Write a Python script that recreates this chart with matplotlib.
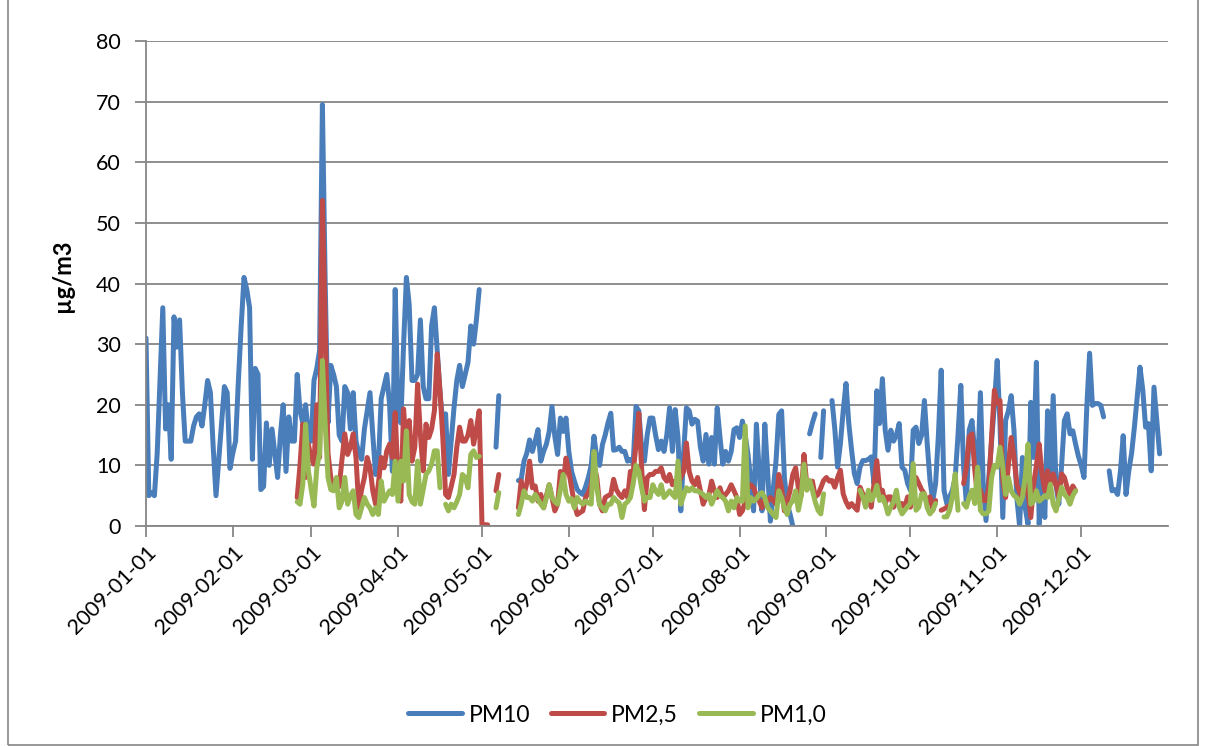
import numpy as np
import pandas as pd
import matplotlib
matplotlib.use("Agg")
import matplotlib.pyplot as plt
import matplotlib.dates as mdates
from matplotlib.lines import Line2D
from matplotlib.patches import Rectangle

N = np.nan

dates = pd.date_range("2009-01-01", "2009-12-31", freq="D")
month_ticks = pd.date_range("2009-01-01", "2009-12-01", freq="MS")

# daily means, one row per month
pm10 = [
    31, 5, 5.5, 5, 12, 24, 36, 16, 20, 11, 34.5, 29.5, 34, 22, 14, 14, 14, 16.5, 18, 18.5,
    16.5, 20, 24, 22, 13, 5, 11, 17, 23, 22, 9.5,
    12, 14, 24, 33, 41, 39, 36, 11, 26, 25, 6, 6.5, 17, 10, 16, 12, 8, 15, 20, 9,
    18, 14, 14, 25, 19, 17, 20, 15,
    14, 24, 26, 29, 69.5, 40, 17, 26.5, 25, 23, 15, 14, 23, 22, 16, 22, 14, 12, 11, 16,
    19, 22, 15, 8.5, 10, 21, 23, 25, 20, 9, 39,
    19, 17, 30, 41, 36.5, 24, 24, 25, 34, 23, 21, 21, 33, 36, 29, 22, 17, 18.5, 8.5, 14,
    19.5, 24, 26.5, 23, 25, 27, 33, 30, 34, 39,
    N, N, N, N, N, 13, 21.5, N, N, N, N, N, N, 7.5, 7.7, 10.7, 12, 14.2, 12.3, 14,
    15.9, 10.7, 12.3, 13.5, 15.6, 19.7, 14.8, 11.8, 17.8, 15.6, 17.8,
    12.3, 9, 7.4, 6, 5.5, 5.2, 6.5, 8, 10, 14.8, 11.2, 10, 13.4, 15, 17, 18.6, 12.5, 12.6, 13, 12.3,
    12.3, 10.7, 11, 10.4, 19.7, 19, 12.9, 10.7, 15, 17.8,
    17.8, 15, 12.6, 14, 12.3, 15, 19.5, 12.3, 19.2, 14.6, 2.5, 12, 19.5, 19, 16.8, 17.6, 17.3, 13, 10.7, 15.1,
    10.2, 14.6, 10.2, 19.5, 14.6, 10.2, 12.3, 10.7, 12.3, 15.9, 16.2,
    14.6, 17.3, 15, 11.8, 7.4, 2.5, 16.8, 9, 2.5, 16.8, 9, 0.8, 6, 10.7, 18.4, 19, 8, 3.6, 2, 0,
    N, N, N, N, N, 15.2, 17, 18.5, N, 11.3, 19,
    N, N, 20.7, 16, 9.7, 13.6, 19, 23.5, 16.9, 12.5, 8.6, 7, 9.7, 10.8, 10.8, 11, 11.4, 7, 22.3, 16.9,
    24.3, 15.8, 12.5, 15.8, 14, 15, 16.9, 9.7, 9.2, 7,
    5.9, 15.8, 16.3, 13.6, 15, 20.7, 13.6, 7.5, 4.2, 7, 15, 25.7, 5.9, 3.7, 4.8, 5.9, 8, 15, 23.2, 9.7,
    3.7, 15.8, 17.4, 12, 8.6, 22, 7, 0.9, 8, 14, 20,
    27.3, 16.8, 1.4, 17.4, 19, 21.5, 15.7, 4.7, 0, 11.3, 3, 0.3, 20.4, 11.3, 27, 0.3, 8, 1.4, 19, 8.6,
    21.5, 6.9, 3.6, 10, 17.4, 18.5, 15.2, 15.7, 13.5, 11.5,
    10, 8, 19.6, 28.5, 19.9, 20.2, 20.2, 19.9, 18, N, 9.1, 5.8, 6, 5.2, 9, 14.9, 5.2, 9.1, 12, 16.3,
    21.3, 26.2, 22.4, 16.3, 16.9, 9.1, 22.9, 17.4, 11.9, N, N,
]

pm25 = [
    N] * 31 + [N] * 23 + [
    4.7, 10, 16.8, 8, 13.5,
    11, 10.2, 20, 11.3, 53.7, 33, 12, 8, 6.3, 6.9, 6.5, 11, 15.2, 11.8, 13, 15.2, 11.3, 3, 6, 8,
    11.3, 9.6, 5.8, 3.6, 7, 11.3, 9.6, 12.4, 13.5, 11.3, 18.7,
    7.4, 4.1, 19.3, 12.4, 17.4, 10.7, 13, 23.4, 15, 9.1, 16.8, 14.6, 16, 19, 28.4, 22.3, 14.6, 5.2, 4.7, 6.5,
    8.5, 13, 16.3, 14, 14, 15, 17.4, 13.5, 16, 19,
    0.2, 0.2, 0.2, N, N, 5.8, 8.5, N, N, N, N, N, N, 3, 7.4, 5.2, 7, 10.7, 6.3, 6.6,
    4.1, 5.2, 3, 5, 6.8, 4.7, 2.5, 3.6, 9, 7, 11.2,
    9, 6.3, 3.6, 1.9, 2.2, 2.5, 4.7, 5.5, 6.8, 10, 8, 3.6, 2.5, 4.7, 5, 5.2, 7.7, 6, 5.2, 4.7,
    5.8, 4.7, 9, 9, 13.4, 18.6, 9.6, 2.7, 8, 8.5,
    8.5, 9, 9, 9.6, 8, 7.4, 8.5, 6.8, 7.4, 6.8, 8, 9, 13.7, 9, 7.4, 6.8, 8, 5.8, 3.6, 4.7,
    5, 7.4, 5.8, 4.7, 6.3, 4.7, 5.2, 5.8, 6.8, 5.8, 4.7,
    1.9, 2.5, 4, 6.3, 6.8, 6.3, 5, 4.1, 3, 4.7, 4.1, 4.7, 4.2, 3.6, 8.5, 6.3, 2.5, 4, 5.8, 8.5,
    9.6, 6.3, 5, 11.8, 6.8, 6.3, 7.4, 4.8, 5.2, 6.3, 7.5,
    8, 7.4, 7.5, 6.4, 8, 9.2, 5.3, 4, 3.1, 3.7, 3.1, 2.6, 6.4, 5.3, 4.8, 5.3, 3.1, 7, 10.8, 5.9,
    5.9, 3.7, 4.8, 4.8, 3.1, 4.2, 3.7, 3.7, 3.1, 4.8,
    3.1, 6, 8, 7, 6, 5.3, 3.7, 4.8, 2.6, 4.2, N, 2.6, 2.8, 3.1, 3.4, N, N, N, N, 7,
    9.7, 14.7, 15.2, 9.2, 4.8, 5.9, 4.2, 4.2, 6.4, 14.7, 22.4,
    20.2, 20.7, 7.5, 4.7, 10.2, 14.6, 11.3, 6.9, 5.5, 4.7, 6.9, 5.8, 1.4, 6.9, 10, 13.5, 8.6, 5.8, 9.1, 6.3,
    8.6, 7, 4.7, 8.6, 8, 6.3, 5.2, 6.6, 5.8, N,
] + [N] * 31

pm10_fine = [
    N] * 31 + [N] * 23 + [
    4, 3.6, 6.9, 16.8, 9.1,
    6, 3.3, 9.6, 12, 27.3, 16.8, 8, 6, 5.8, 8, 3, 4.1, 8, 3.6, 5, 5.8, 1.9, 1.4, 3, 4.7,
    3.6, 3, 1.9, 3, 1.9, 7.4, 4.1, 5, 5.8, 5.2, 10.7,
    4.1, 10.7, 7.4, 15.7, 5.2, 4, 3.6, 10.7, 3.6, 6, 8.5, 9.1, 10.2, 12.4, 12.4, 6.3, N, 3.6, 2.5, 3.6,
    3, 4, 5.2, 8.5, 8, 6.3, 11.8, 12.4, 11.3, 11.5,
    N, N, N, N, N, 3, 5.5, N, N, N, N, N, N, 1.9, 3.6, 5.8, 4.7, 4.7, 4.1, 5.2,
    4.4, 3.6, 3, 4.7, 6.8, 4.7, 4, 3.6, 6, 8.5, 5.2,
    4.1, 4.5, 3, 4.7, 4, 3.6, 4.1, 3.8, 3.6, 12.3, 6.3, 3.5, 3, 2.5, 3.6, 3.6, 4.7, 4.2, 3.8, 1.4,
    3.6, 4, 4.7, 7, 10, 9, 6.3, 4.1, 4.7, 4.7,
    6.8, 5.8, 5.2, 6.8, 4.7, 5.2, 5.8, 5.2, 4.7, 10.7, 3.6, 5, 6.3, 5.8, 6.3, 5.8, 5.8, 5.5, 5.2, 4.7,
    5.2, 3.6, 4.7, 5.8, 5, 4.7, 4.1, 2.5, 4.1, 3, 4.7,
    4.1, 4.1, 16.5, 3, 4.7, 4.1, 4.5, 5.2, 5.5, 4.7, 3, 2.5, 1.9, 1.4, 5.8, 4.7, 3, 1.9, 3.6, 4.1,
    5.8, 2.6, 5, 10.2, 5.9, 7.5, 5.9, 4, 2.6, 2, 5.3,
    N, N, N, N, N, N, N, N, N, N, N, N, 5.9, 4.8, 3.1, 5.9, 4.2, 5, 6.7, 4.2,
    4.8, 3.7, 2, 3.1, 4, 5.9, 3.1, 2, 2.6, 3.2,
    3.7, 10.3, 2.6, 3.1, 5.3, 5.3, 3, 2, 2.6, 3.7, N, N, 1.5, 1.5, 2.6, 4.8, 8.6, 2.6, N, 3.7,
    3.1, 4.8, 5.9, 3.7, 9.7, 2.6, 2, 2, 2.5, 8, 10,
    9.7, 13, 9.7, 5.2, 8, 5.8, 5, 4.7, 3.6, 4.7, 8, 13.5, 3.6, 4.1, 5.8, 4.1, 4.5, 5, 4.7, 6.9,
    3.6, 2.5, 4.5, 6.4, 5.2, 4.7, 3.6, 5, 5.8, N,
] + [N] * 31

series_names = ["PM10", "PM2,5", "PM1,0"]
series_colors = ["#4A7EBB", "#BE4B48", "#98B954"]

plt.rcParams["font.family"] = ["Lato", "DejaVu Sans"]
grey = "#868686"

fig = plt.figure(figsize=(12.06, 7.46), dpi=100)
ax = fig.add_axes([146 / 1206, 1 - 526 / 746, (1168 - 146) / 1206, (526 - 41) / 746])

for vals, name, col in zip([pm10, pm25, pm10_fine], series_names, series_colors):
    ax.plot(dates, vals, color=col, lw=3.6, label=name,
            solid_joinstyle="round", solid_capstyle="round")

ax.set_ylim(0, 80)
ax.set_yticks(range(0, 81, 10))
ax.set_xlim(dates[0], pd.Timestamp("2010-01-01"))
ax.set_xticks(month_ticks)
ax.xaxis.set_major_formatter(mdates.DateFormatter("%Y-%m-%d"))
ax.yaxis.grid(True, color=grey, lw=1.3)
ax.set_axisbelow(True)

for s in ["top", "right"]:
    ax.spines[s].set_visible(False)
for s in ["left", "bottom"]:
    ax.spines[s].set_color(grey)
    ax.spines[s].set_linewidth(1.3)

ax.tick_params(axis="both", direction="out", length=8, width=1.3, color=grey,
               labelsize=15.5, labelcolor="black")
ax.tick_params(axis="y", pad=10)
plt.setp(ax.get_xticklabels(), rotation=45, ha="right", rotation_mode="anchor")

fig.text(62 / 1206, 1 - 276 / 746, "µg/m3", rotation=90, ha="center", va="center",
         fontsize=17, fontweight="bold")

handles = [Line2D([], [], color=c, lw=3.6, solid_capstyle="round") for c in series_colors]
fig.legend(handles, series_names, loc="center", bbox_to_anchor=(617 / 1206, 1 - 715 / 746),
           ncol=3, frameon=False, fontsize=16.5, handlelength=2.35, handletextpad=0.3,
           columnspacing=0.9)

fig.patches.append(Rectangle((8 / 1206, 1 / 746), 1190 / 1206, 760 / 746,
                             transform=fig.transFigure, fill=False, edgecolor=grey, lw=1.2))

fig.savefig("out.png", dpi=100)
